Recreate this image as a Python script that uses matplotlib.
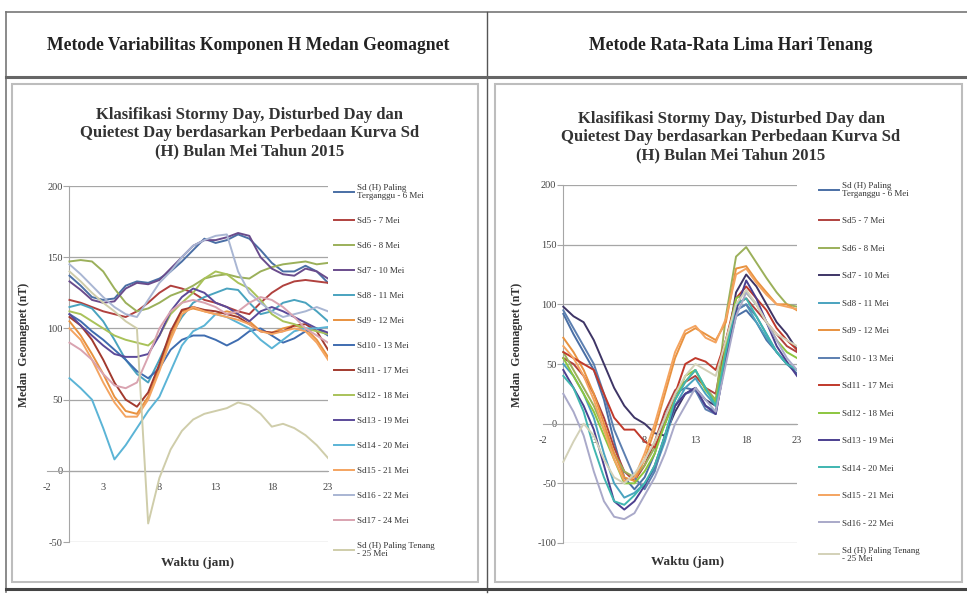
import matplotlib
matplotlib.use('Agg')
import matplotlib.pyplot as plt
from matplotlib.lines import Line2D
from matplotlib.patches import Rectangle

# ---------------- data ----------------
hours = list(range(24))

header_left = "Metode Variabilitas Komponen H Medan Geomagnet"
header_right = "Metode Rata-Rata Lima Hari Tenang"
chart_title = "Klasifikasi Stormy Day, Disturbed Day dan\nQuietest Day berdasarkan Perbedaan Kurva Sd\n(H) Bulan Mei Tahun 2015"
x_label = "Waktu (jam)"
y_label = "Medan  Geomagnet (nT)"
x_ticks = [-2, 3, 8, 13, 18, 23]
y_ticks_left = [-50, 0, 50, 100, 150, 200]
y_ticks_right = [-100, -50, 0, 50, 100, 150, 200]

labels_left = ["Sd (H) Paling\nTerganggu - 6 Mei", "Sd5 - 7 Mei", "Sd6 - 8 Mei", "Sd7 - 10 Mei",
               "Sd8 - 11 Mei", "Sd9 - 12 Mei", "Sd10 - 13 Mei", "Sd11 - 17 Mei", "Sd12 - 18 Mei",
               "Sd13 - 19 Mei", "Sd14 - 20 Mei", "Sd15 - 21 Mei", "Sd16 - 22 Mei", "Sd17 - 24 Mei",
               "Sd (H) Paling Tenang\n- 25 Mei"]

# Left chart: Sd(H) per hour
L_06 = [137, 130, 122, 120, 121, 130, 133, 132, 135, 140, 147, 155, 163, 160, 162, 166, 163, 155, 146, 140, 140, 144, 140, 132]
L_07 = [120, 118, 115, 112, 110, 108, 112, 118, 125, 130, 128, 125, 120, 118, 115, 112, 110, 118, 125, 130, 133, 134, 133, 132]
L_08 = [147, 148, 147, 140, 128, 118, 112, 114, 118, 123, 126, 130, 135, 137, 138, 136, 135, 140, 143, 145, 146, 147, 145, 146]
L_10 = [133, 127, 120, 118, 119, 128, 132, 131, 134, 142, 150, 158, 162, 162, 164, 167, 165, 150, 142, 138, 137, 142, 140, 135]
L_11 = [115, 117, 114, 105, 92, 78, 68, 62, 78, 95, 108, 118, 122, 125, 128, 127, 118, 110, 112, 118, 120, 118, 112, 105]
L_12 = [105, 95, 82, 68, 52, 42, 40, 52, 72, 95, 112, 114, 112, 110, 112, 110, 105, 98, 97, 100, 102, 100, 92, 80]
L_13 = [110, 105, 98, 92, 85, 78, 70, 65, 72, 85, 92, 95, 95, 92, 88, 92, 98, 100, 95, 90, 93, 98, 100, 95]
L_17 = [108, 102, 92, 78, 62, 50, 45, 55, 75, 98, 113, 115, 113, 112, 110, 108, 103, 98, 97, 98, 102, 103, 98, 85]
L_18 = [112, 110, 105, 100, 95, 92, 90, 88, 95, 110, 118, 125, 135, 140, 138, 132, 128, 120, 110, 105, 103, 100, 98, 96]
L_19 = [110, 102, 95, 88, 82, 80, 80, 82, 95, 112, 122, 128, 125, 118, 115, 110, 105, 112, 115, 112, 108, 104, 100, 97]
L_20 = [65, 58, 50, 30, 8, 18, 30, 42, 52, 70, 88, 98, 102, 110, 108, 104, 100, 92, 86, 92, 98, 100, 100, 101]
L_21 = [100, 92, 78, 62, 48, 38, 38, 50, 70, 92, 110, 115, 112, 110, 108, 106, 103, 98, 96, 98, 100, 98, 90, 78]
L_22 = [145, 138, 130, 122, 115, 110, 108, 120, 132, 140, 150, 158, 162, 165, 166, 140, 125, 118, 112, 108, 110, 112, 115, 112]
L_24 = [90, 85, 78, 68, 60, 58, 62, 80, 100, 112, 118, 120, 118, 115, 110, 112, 118, 122, 120, 115, 108, 100, 95, 90]
L_25 = [140, 133, 125, 118, 112, 105, 100, -37, -5, 15, 28, 36, 40, 42, 44, 48, 46, 40, 31, 33, 30, 25, 18, 9]
series_left = [L_06, L_07, L_08, L_10, L_11, L_12, L_13, L_17, L_18, L_19, L_20, L_21, L_22, L_24, L_25]

labels_right = ["Sd (H) Paling\nTerganggu - 6 Mei", "Sd5 - 7 Mei", "Sd6 - 8 Mei", "Sd7 - 10 Mei",
                "Sd8 - 11 Mei", "Sd9 - 12 Mei", "Sd10 - 13 Mei", "Sd11 - 17 Mei", "Sd12 - 18 Mei",
                "Sd13 - 19 Mei", "Sd14 - 20 Mei", "Sd15 - 21 Mei", "Sd16 - 22 Mei",
                "Sd (H) Paling Tenang\n- 25 Mei"]

# Right chart: deviation from five quiet days mean
R_06 = [92, 75, 60, 45, 20, -15, -45, -55, -45, -25, 5, 25, 30, 28, 15, 10, 55, 90, 95, 85, 70, 60, 50, 42]
R_07 = [55, 50, 40, 25, 5, -20, -40, -48, -35, -15, 10, 28, 35, 40, 30, 25, 70, 100, 105, 95, 85, 75, 65, 60]
R_08 = [60, 45, 30, 15, -5, -25, -40, -45, -35, -20, 0, 20, 35, 45, 30, 20, 90, 140, 148, 135, 122, 110, 100, 98]
R_10 = [98, 90, 85, 70, 50, 30, 15, 5, 0, -8, -10, 10, 25, 30, 20, 15, 60, 110, 125, 115, 100, 85, 75, 62]
R_11 = [50, 40, 25, 5, -25, -50, -62, -58, -50, -38, -15, 15, 30, 38, 25, 15, 55, 95, 100, 85, 72, 60, 50, 45]
R_12 = [72, 60, 45, 25, 0, -25, -45, -48, -30, -5, 25, 55, 75, 80, 75, 70, 85, 130, 132, 120, 110, 100, 100, 95]
R_13 = [95, 80, 65, 50, 25, -5, -25, -45, -55, -40, -10, 15, 25, 28, 12, 8, 55, 95, 100, 90, 75, 60, 50, 45]
R_17 = [60, 55, 50, 45, 25, 5, -5, -5, -15, -20, 0, 25, 50, 55, 52, 45, 70, 105, 115, 105, 95, 80, 70, 62]
R_18 = [55, 40, 25, 10, -10, -30, -50, -50, -40, -25, 0, 20, 40, 45, 28, 18, 65, 105, 110, 100, 85, 70, 60, 55]
R_19 = [45, 30, 15, -5, -35, -65, -72, -65, -52, -35, -10, 15, 25, 30, 15, 8, 55, 95, 120, 105, 85, 65, 52, 40]
R_20 = [40, 30, 10, -20, -45, -65, -68, -60, -50, -35, -10, 20, 35, 45, 30, 15, 60, 100, 105, 90, 75, 60, 50, 45]
R_21 = [65, 55, 40, 20, -5, -30, -48, -45, -25, 0, 30, 60, 78, 82, 72, 68, 88, 125, 130, 118, 108, 100, 98, 96]
R_22 = [25, 10, -10, -40, -65, -78, -80, -75, -60, -45, -25, 0, 15, 30, 20, 10, 50, 90, 110, 100, 85, 70, 55, 45]
R_25 = [-32, -15, 0, -10, -30, -45, -50, -42, -30, -15, 5, 25, 40, 50, 45, 40, 70, 100, 112, 100, 85, 75, 70, 65]
series_right = [R_06, R_07, R_08, R_10, R_11, R_12, R_13, R_17, R_18, R_19, R_20, R_21, R_22, R_25]

colors_left = ['#4A6FA5', '#B0413E', '#9BB05A', '#6A4C8C', '#4AA3BF', '#E8923F', '#3F6DB0',
               '#A23A2E', '#A9C25A', '#5B4A99', '#5BB4D6', '#F4A460', '#A9B6D3', '#D9A3B0', '#CFCDAA']
colors_right = ['#4A6FA5', '#B0413E', '#9BB05A', '#3E3566', '#4AA3BF', '#E8923F', '#5C7FB0',
                '#C0392B', '#8CC63F', '#4B3F8F', '#3FB6B0', '#F4A460', '#A9A9C9', '#D3D1B8']

# ---------------- figure ----------------
W, H = 967, 596
fig = plt.figure(figsize=(W / 100, H / 100), dpi=100)
fig.patch.set_facecolor('white')
SERIF = ['Liberation Serif', 'DejaVu Serif']


def fx(px):
    return px / W


def fy(py):
    return 1 - py / H


def fline(x0, y0, x1, y1, color='#555555', lw=1.0):
    fig.add_artist(Line2D([fx(x0), fx(x1)], [fy(y0), fy(y1)], color=color, lw=lw,
                          transform=fig.transFigure))


# table lines
fline(6, 12, 967, 12, '#777777', 1.2)
fline(6, 12, 6, 592, '#777777', 1.2)
fline(487, 12, 487, 592, '#555555', 1.0)
fline(6, 77, 967, 77, '#666666', 2.2)
fline(6, 589, 967, 589, '#444444', 2.2)

fig.text(fx(248), fy(45), header_left, ha='center', va='center', family=SERIF,
         fontsize=12.7, fontweight='bold', color='#222222')
fig.text(fx(731), fy(45), header_right, ha='center', va='center', family=SERIF,
         fontsize=12.7, fontweight='bold', color='#222222')

# chart boxes
for (x0, y0, x1, y1) in [(12, 84, 478, 582), (495, 84, 962, 582)]:
    fig.add_artist(Rectangle((fx(x0), fy(y1)), fx(x1) - fx(x0), fy(y0) - fy(y1),
                             transform=fig.transFigure, fill=False, ec='#BDBDBD', lw=1.5))


def make_panel(rect, series, labels, colors, yticks, title_xy, leg_xy, ylab_x, xlab_xy, labsp):
    ax = fig.add_axes(rect)
    ax.set_xlim(-2, 23)
    ax.set_ylim(yticks[0], yticks[-1])
    for yv in yticks:
        ax.plot([0, 23], [yv, yv], color='#A6A6A6', lw=0.9, zorder=1)
    handles = []
    for s, lab, c in zip(series, labels, colors):
        h, = ax.plot(hours, s, color=c, lw=1.4, zorder=3, label=lab)
        handles.append(h)
    for sp in ['top', 'right']:
        ax.spines[sp].set_visible(False)
    ax.spines['left'].set_position(('data', 0))
    ax.spines['bottom'].set_position(('data', 0))
    ax.spines['left'].set_color('#A6A6A6')
    ax.spines['bottom'].set_color('#A6A6A6')
    ax.set_axisbelow(True)
    ax.set_xticks(x_ticks)
    ax.set_yticks(yticks)
    ax.set_xticklabels([str(v) for v in x_ticks], family=SERIF, fontsize=7.5, color='#444444')
    ax.set_yticklabels([str(v) for v in yticks], family=SERIF, fontsize=7.5, color='#444444')
    ax.tick_params(axis='y', length=4, color='#A6A6A6', pad=1)
    ax.tick_params(axis='x', length=0, pad=9)
    ax.patch.set_alpha(0)

    fig.text(fx(title_xy[0]), fy(title_xy[1]), chart_title, ha='center', va='center',
             family=SERIF, fontsize=12, fontweight='bold', color='#333333', linespacing=1.2)
    fig.text(fx(ylab_x), fy(345), y_label, ha='center', va='center', rotation=90,
             family=SERIF, fontsize=8.5, fontweight='bold', color='#333333')
    fig.text(fx(xlab_xy[0]), fy(xlab_xy[1]), x_label, ha='center', va='center',
             family=SERIF, fontsize=9.5, fontweight='bold', color='#333333')
    leg = ax.legend(handles=handles, loc='upper left', bbox_to_anchor=(fx(leg_xy[0]), fy(leg_xy[1])),
                    bbox_transform=fig.transFigure, frameon=False,
                    prop={'family': SERIF, 'size': 6.5}, handlelength=2.2, handletextpad=0.3,
                    labelspacing=labsp, borderaxespad=0, borderpad=0)
    for t in leg.get_texts():
        t.set_color('#333333')
        t.set_linespacing(1.0)
    return ax


axL = make_panel([fx(47), fy(542), fx(328) - fx(47), fy(186) - fy(542)], series_left, labels_left,
                 colors_left, y_ticks_left, (250, 133), (334, 184), 24, (198, 563), 1.85)
axR = make_panel([fx(543), fy(543), fx(797) - fx(543), fy(185) - fy(543)], series_right, labels_right,
                 colors_right, y_ticks_right, (731, 137), (819, 182), 517, (688, 562), 2.12)

fig.savefig('out.png', dpi=100, facecolor='white')
